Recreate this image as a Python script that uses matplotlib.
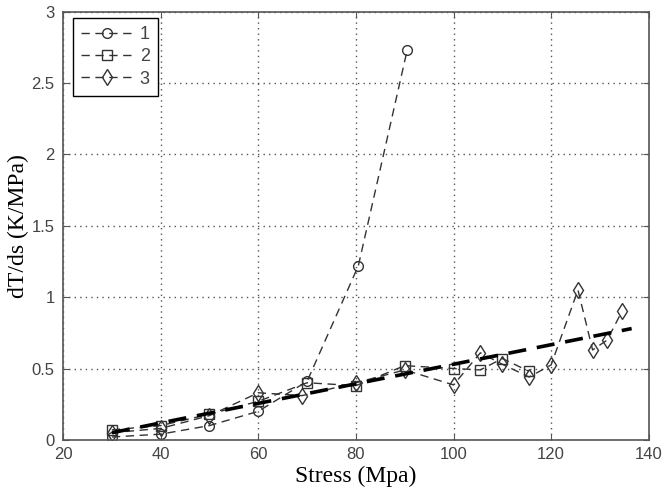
import numpy as np
import matplotlib.pyplot as plt

# series 1 (circles)
x1 = [30, 40, 50, 60, 70, 80.5, 90.5]
y1 = [0.02, 0.04, 0.10, 0.20, 0.41, 1.22, 2.73]

# series 2 (squares)
x2 = [30, 40, 50, 60, 70, 80, 90, 100, 105.5, 110, 115.5]
y2 = [0.07, 0.10, 0.18, 0.27, 0.40, 0.38, 0.52, 0.50, 0.49, 0.57, 0.48]

# series 3 (diamonds)
x3 = [30, 40, 50, 60, 69, 80, 90, 100, 105.5, 110, 115.5, 120, 125.5, 128.5, 131.5, 134.5]
y3 = [0.05, 0.08, 0.17, 0.33, 0.31, 0.40, 0.49, 0.385, 0.61, 0.53, 0.44, 0.525, 1.05, 0.63, 0.70, 0.90]

# linear trend
xt = [30, 136.5]
yt = [0.05, 0.78]

fig = plt.figure(figsize=(6.64, 4.92), dpi=100)
ax = fig.add_axes([0.095, 0.106, 0.882, 0.870])

lc = '#333333'
ax.plot(xt, yt, color='black', linewidth=2.6, dashes=(5, 3), zorder=3)
ax.plot(x1, y1, color=lc, linewidth=1.0, dashes=(6, 4), marker='o', markersize=7,
        markerfacecolor='none', markeredgecolor=lc, label='1')
ax.plot(x2, y2, color=lc, linewidth=1.0, dashes=(6, 4), marker='s', markersize=7,
        markerfacecolor='none', markeredgecolor=lc, label='2')
ax.plot(x3, y3, color=lc, linewidth=1.0, dashes=(6, 4), marker='d', markersize=8,
        markerfacecolor='none', markeredgecolor=lc, label='3')

ax.set_xlim(20, 140)
ax.set_ylim(0, 3)
ax.set_xticks([20, 40, 60, 80, 100, 120, 140])
ax.set_yticks([0, 0.5, 1, 1.5, 2, 2.5, 3])
ax.set_yticklabels(['0', '0.5', '1', '1.5', '2', '2.5', '3'])
ax.grid(True, linestyle=(0, (1, 3)), color='#555555', linewidth=1.0)
ax.tick_params(direction='in', labelsize=12, colors='#555555', labelcolor='#444444',
               top=True, right=True, length=4)
ax.tick_params(axis='y', pad=6)
ax.tick_params(axis='x', pad=5)
for t in ax.get_xticklabels() + ax.get_yticklabels():
    t.set_family('Liberation Sans')
for s in ax.spines.values():
    s.set_color('#555555')
    s.set_linewidth(1.2)

ax.set_xlabel('Stress (Mpa)', family='Liberation Serif', fontsize=17, labelpad=3)
ax.set_ylabel('dT/ds (K/MPa)', family='Liberation Serif', fontsize=17, labelpad=2)

leg = ax.legend(loc='upper left', bbox_to_anchor=(0.017, 0.986), fancybox=False,
                edgecolor='black', framealpha=1,
                prop={'family': 'Liberation Sans', 'size': 13}, handlelength=2.9,
                handletextpad=0.35, labelspacing=0.3, borderpad=0.45,
                borderaxespad=0.0)
leg.get_frame().set_linewidth(1.0)
for t in leg.get_texts():
    t.set_color('#444444')

fig.savefig('out.png', dpi=100)
